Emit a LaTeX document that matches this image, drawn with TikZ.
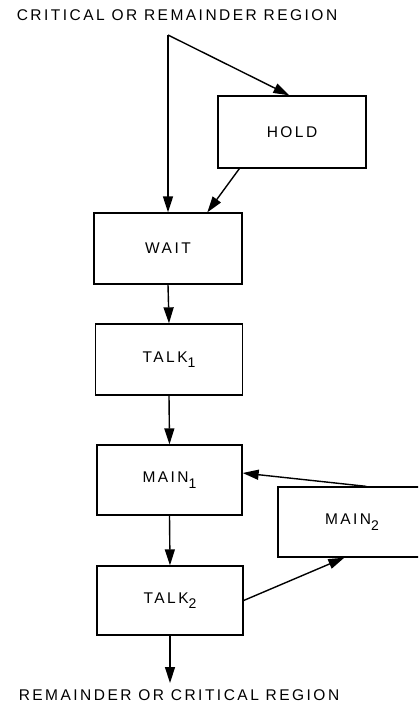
\documentclass[tikz,border=0pt]{standalone}
\usepackage{fontspec}
\setmainfont{Liberation Sans}[LetterSpace=16]
\usetikzlibrary{arrows.meta,calc}
\newcommand{\lsub}[1]{\raisebox{-5.5pt}{\fontsize{14}{14}\selectfont #1}}
\begin{document}
\begin{tikzpicture}[x=1pt,y=-1pt,
  box/.style={draw, line width=1.3pt, rectangle, minimum width=147pt, minimum height=71pt, inner sep=0pt, font=\fontsize{15.5}{17}\selectfont},
  arr/.style={-{Triangle[length=16pt,width=10pt]}, line width=1.4pt},
  lbl/.style={font=\fontsize{15.5}{17}\selectfont, inner sep=0pt}]
\useasboundingbox (0,0) rectangle (418,704);
\clip (0,0) rectangle (418,704);
\node[lbl] (ttl) at (177,15) {CRITICAL OR REMAINDER REGION};
\node[lbl] (btm) at (179,695) {REMAINDER OR CRITICAL REGION};
\node[box, minimum width=148pt, minimum height=72pt] (hold) at (292,132) {HOLD};
\node[box, minimum width=148pt] (wait) at (168,248.5) {WAIT};
\node[box] (talk1) at (169,359.5) {TALK\lsub{1}};
\node[box, minimum width=145pt, minimum height=70pt] (main1) at (169.5,480) {MAIN\lsub{1}};
\node[box, minimum width=146pt, minimum height=69pt] (talk2) at (170,600.5) {TALK\lsub{2}};
\node[box, minimum width=148pt, minimum height=70pt] (main2) at (352,522) {MAIN\lsub{2}};
\coordinate (apex) at (168,35);
\coordinate (exit) at (170,683);
\draw[arr] (apex) -- (wait.north);
\draw[arr] (apex) -- ($(hold.north west)+(72,0)$);
\draw[arr] ($(hold.south west)+(22,0)$) -- ($(wait.north west)+(114,0)$);
\draw[arr] (wait.south) -- (talk1.north);
\draw[arr] (talk1.south) -- (main1.north);
\draw[arr] (main1.south) -- (talk2.north);
\draw[arr] ($(main2.north west)+(89,0)$) -- ($(main1.east)+(0,-7)$);
\draw[arr] (talk2.east) -- ($(main2.south west)+(67,0)$);
\draw[arr] (talk2.south) -- (exit);
\end{tikzpicture}
\end{document}
